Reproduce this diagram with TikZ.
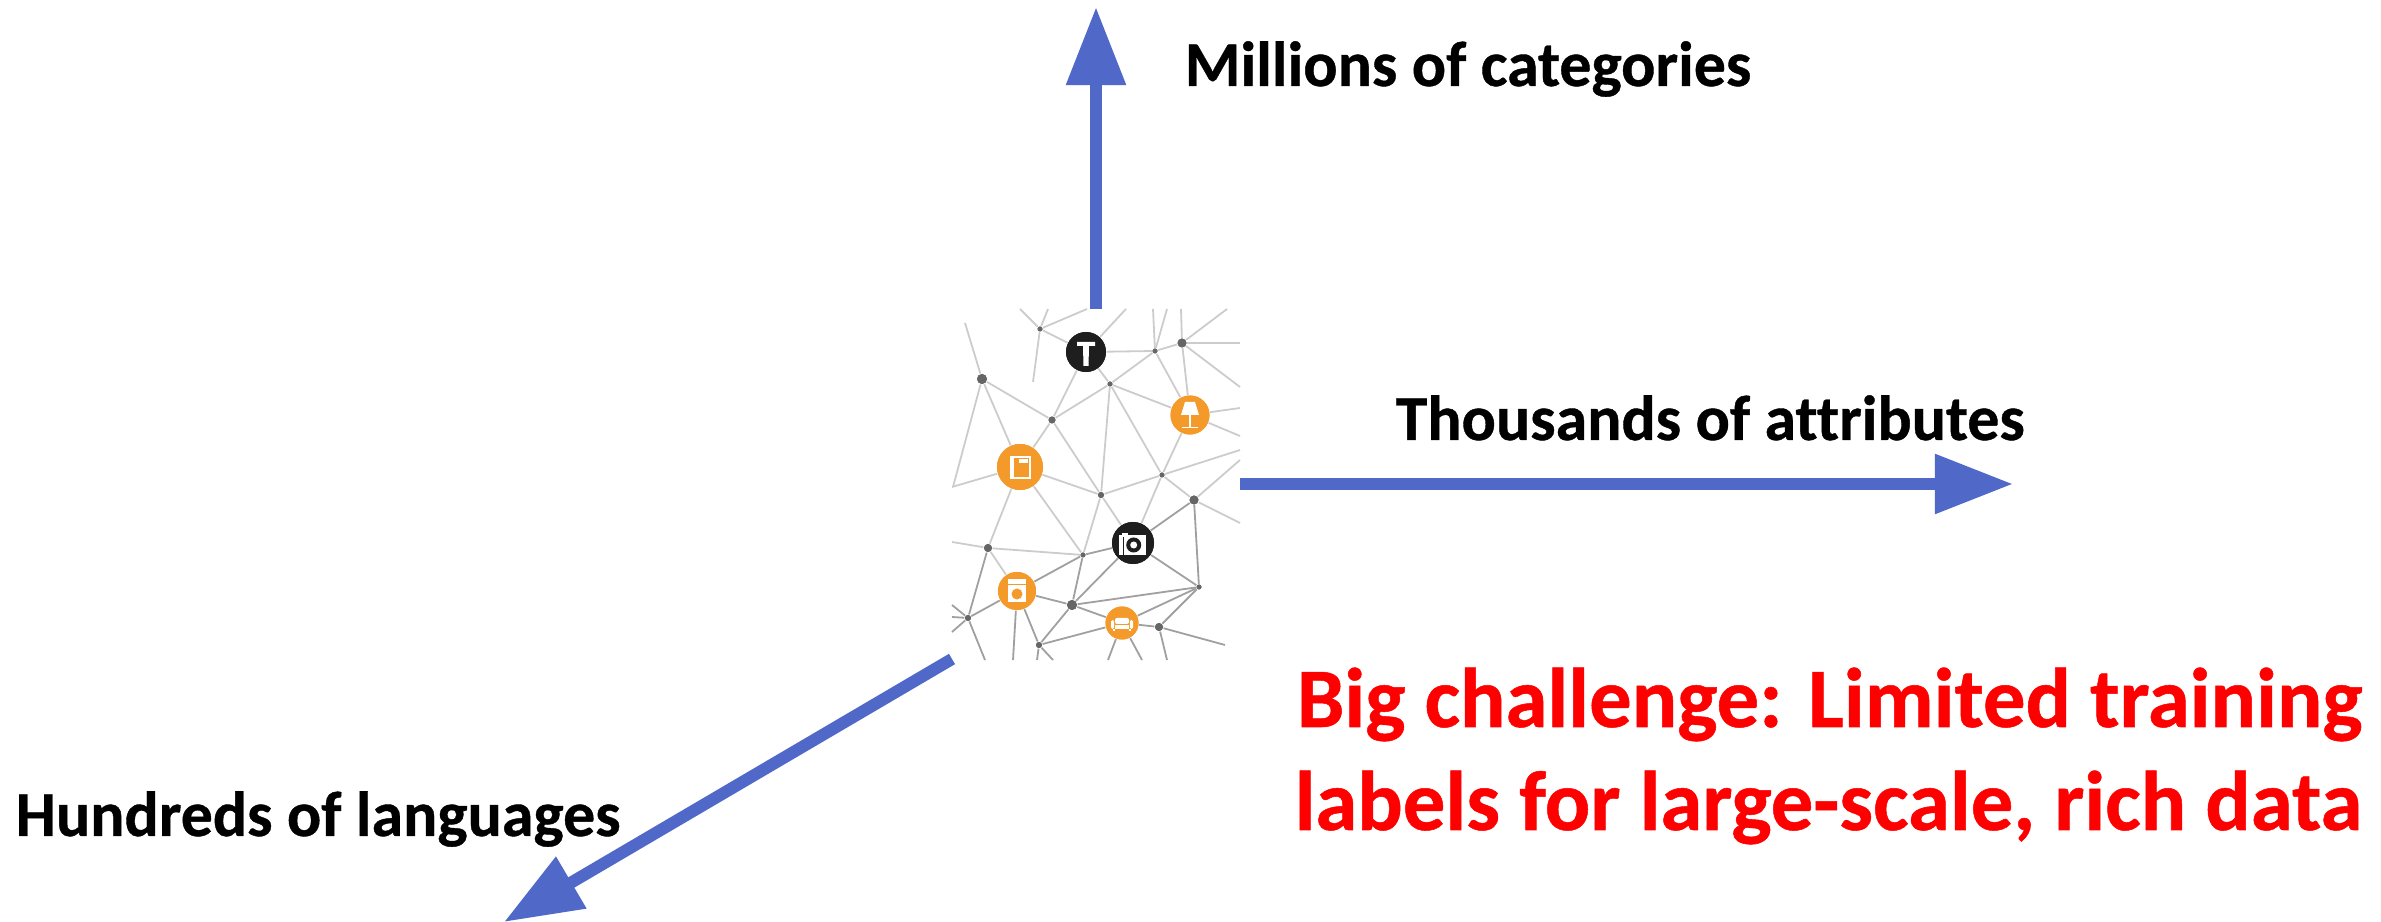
\documentclass[tikz,border=0pt]{standalone}
\usepackage{fontspec}
\setmainfont{Carlito}[Ligatures=NoCommon,BoldFeatures={FakeBold=0.6}]
\usetikzlibrary{arrows.meta}
\definecolor{axisblue}{HTML}{5069C8}
\definecolor{iconorange}{HTML}{F39A2B}
\definecolor{iconblack}{HTML}{1E1E1E}
\definecolor{dotgray}{HTML}{666666}
\definecolor{edgelight}{HTML}{CCCCCC}
\definecolor{edgedark}{HTML}{A0A0A0}
\tikzset{
  axisarrow/.style={draw=axisblue,fill=axisblue,line width=0.12cm,-{Triangle[length=0.78cm,width=0.57cm]}},
  dot/.style={circle,fill=dotgray,inner sep=0pt,minimum size=#1*0.02cm},
  hub/.style 2 args={circle,fill=#1,inner sep=0pt,minimum size=#2*0.02cm},
  edgeA/.style={draw=edgelight,line width=0.018cm},
  edgeB/.style={draw=edgedark,line width=0.018cm},
  blacklabel/.style={anchor=base west,inner sep=0pt,font=\fontsize{18.15pt}{20pt}\selectfont\bfseries,text=black},
  redlabel/.style={anchor=base east,inner sep=0pt,font=\fontsize{24.1pt}{28pt}\selectfont\bfseries,text=red},
  iconw/.style={fill=white,draw=none},
}
\begin{document}
\begin{tikzpicture}[x=0.01cm,y=-0.01cm]
\useasboundingbox (0,0) rectangle (2381,922);
% free ends
\foreach \n/\p in {a1/{1020,309},a2/{1048,309},a3/{1087,309},a4/{1033,382},a5/{1126,309},a6/{1153,309},a7/{1167,309},a8/{1181,309},a9/{1227,309},a10/{1240,343},a11/{1240,387},a12/{965,323},a13/{953,487},a14/{1240,408},a15/{1240,436},a16/{1240,450},a17/{1240,460},a18/{1240,523},a19/{952,542},a20/{1013,660},a21/{1108,660},a22/{1142,660},a23/{1225,645},a24/{1167,660},a25/{952,605},a26/{952,617},a27/{952,632},a28/{985,660},a29/{1037,660},a30/{1053,660},a31/{952,487}}
  {\coordinate (\n) at (\p);}
% network nodes
\foreach \n/\p/\r in {n1/{1040,329}/2.5,n3/{1155,351}/2.5,n4/{1182,343}/4.5,n5/{982,379}/5,n6/{1110,384}/2.5,n8/{1052,420}/3.5,n10/{1162,475}/2.5,n11/{1101,495}/3,n12/{1194,500}/4.5,n14/{988,548}/4,n15/{1083,555}/2.5,n17/{1199,587}/2.5,n18/{1072,605}/5,n20/{1159,627}/4,n21/{968,618}/3,n22/{1039,645}/3}
  {\node[dot=\r] (\n) at (\p) {};}
\node[hub={iconblack}{20}] (n2) at (1086,352) {};
\node[hub={iconorange}{19.5}] (n7) at (1190,415) {};
\node[hub={iconorange}{23}] (n9) at (1020,467) {};
\node[hub={iconblack}{21}] (n13) at (1133,543) {};
\node[hub={iconorange}{19}] (n16) at (1017,591) {};
\node[hub={iconorange}{16.5}] (n19) at (1122,623) {};
% edges
\foreach \a/\b in {n1/a1,n1/a2,n1/a3,n1/a4,n1/n2,n2/a5,n2/n3,n2/n6,n2/n8,n3/a6,n3/a7,n3/n4,n3/n6,n3/n7,n4/a8,n4/a9,n4/a10,n4/a11,n4/n7,n5/a12,n5/n8,n5/n9,n5/a13,n6/n8,n6/n7,n6/n11,n6/n10,n7/a14,n7/a15,n7/n10,n8/n9,n8/n11,n9/a31,n9/n11,n9/n14,n9/n15,n10/n11,n10/a16,n10/n12,n10/n13,n11/n15,n11/n13,n12/a17,n12/a18,n14/a19,n14/n15,n14/n16}
  {\draw[edgeA] (\a) -- (\b);}
\foreach \a/\b in {n12/n13,n12/n17,n13/n15,n13/n18,n13/n17,n14/n21,n15/n16,n15/n18,n16/n18,n16/n21,n16/a20,n16/n22,n17/n18,n17/n19,n17/n20,n18/n19,n18/n22,n19/n20,n19/n22,n19/a21,n19/a22,n20/a23,n20/a24,n21/a25,n21/a26,n21/a27,n21/a28,n22/a29,n22/a30}
  {\draw[edgeB] (\a) -- (\b);}
% redraw nodes on top
\foreach \n/\p/\r in {n1/{1040,329}/2.5,n3/{1155,351}/2.5,n4/{1182,343}/4.5,n5/{982,379}/5,n6/{1110,384}/2.5,n8/{1052,420}/3.5,n10/{1162,475}/2.5,n11/{1101,495}/3,n12/{1194,500}/4.5,n14/{988,548}/4,n15/{1083,555}/2.5,n17/{1199,587}/2.5,n18/{1072,605}/5,n20/{1159,627}/4,n21/{968,618}/3,n22/{1039,645}/3}
  {\fill[dotgray] (\p) circle[radius=\r*0.01cm];}
\fill[iconblack] (n2) circle[radius=0.20cm];
\fill[iconorange] (n7) circle[radius=0.195cm];
\fill[iconorange] (n9) circle[radius=0.23cm];
\fill[iconblack] (n13) circle[radius=0.21cm];
\fill[iconorange] (n16) circle[radius=0.19cm];
\fill[iconorange] (n19) circle[radius=0.165cm];
% hammer
\begin{scope}[shift={(n2)}]
  \fill[iconw] (-9,-10) -- (9,-10) -- (9,-6) -- (3,-6) -- (2.5,14) -- (-2.5,14) -- (-3,-6) -- (-9,-6) -- cycle;
\end{scope}
% lamp
\begin{scope}[shift={(n7)}]
  \fill[iconw] (-5,-13) -- (5,-13) -- (9,0) -- (-9,0) -- cycle;
  \fill[iconw] (-1,0) rectangle (1,12);
  \fill[iconw] (-8,12) rectangle (8,13.5);
\end{scope}
% book
\begin{scope}[shift={(n9)}]
  \fill[iconw] (-10,-11) rectangle (11,12);
  \fill[iconorange] (-6,-9) rectangle (9,10);
  \fill[iconw] (-1.5,-7.5) rectangle (7.5,-3.5);
\end{scope}
% camera
\begin{scope}[shift={(n13)}]
  \fill[iconw] (-11,-10) rectangle (-5,-7);
  \fill[iconw] (-14,-8) rectangle (13,12);
  \fill[iconblack] (-10.5,-6) rectangle (-9.5,12);
  \fill[iconblack] (0.7,2) circle[radius=0.075cm];
  \fill[iconw] (0.7,2) circle[radius=0.035cm];
\end{scope}
% washer
\begin{scope}[shift={(n16)}]
  \fill[iconw] (-9,-12) rectangle (9,11);
  \fill[iconorange] (-9,-6.8) rectangle (9,-5.8);
  \fill[iconorange] (0,3) circle[radius=0.055cm];
\end{scope}
% sofa
\begin{scope}[shift={(n19)}]
  \fill[iconw,rounded corners=0.02cm] (-7,-5) rectangle (7,1);
  \fill[iconw,rounded corners=0.015cm] (-11,-3) rectangle (-7.8,6);
  \fill[iconw,rounded corners=0.015cm] (7.8,-3) rectangle (11,6);
  \fill[iconw] (-7,2) rectangle (7,6);
  \fill[iconw] (-9,6) rectangle (-7,8);
  \fill[iconw] (7,6) rectangle (9,8);
\end{scope}
% axes
\coordinate (upS) at (1096,309);
\coordinate (upE) at (1096,7);
\coordinate (rtS) at (1240,484);
\coordinate (rtE) at (2013,484);
\coordinate (dlS) at (952,659);
\coordinate (dlE) at (504,922);
\draw[axisarrow] (upS) -- (upE);
\draw[axisarrow] (rtS) -- (rtE);
\draw[axisarrow] (dlS) -- (dlE);
% labels
\node[blacklabel] (mil) at (1184,86) {Millions of categories};
\node[blacklabel] (tho) at (1395,440) {Thousands of attributes};
\node[blacklabel] (hun) at (15,836) {Hundreds of languages};
\node[redlabel] (big) at (2363,727) {Big challenge: Limited training};
\node[redlabel] (lab) at (2363,830) {labels for large-scale, rich data};
\end{tikzpicture}
\end{document}
